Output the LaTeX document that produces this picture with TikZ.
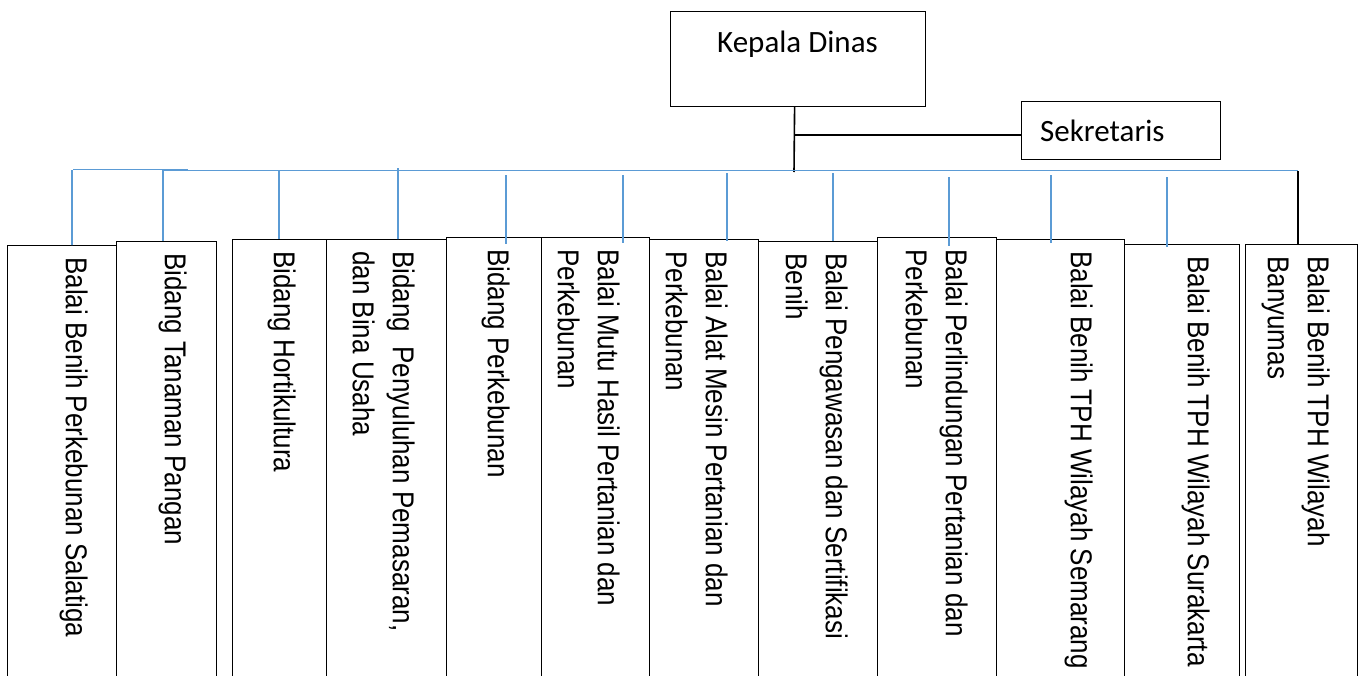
\documentclass[tikz,border=0pt]{standalone}
\usepackage{fontspec}
\newfontfamily\arialf{Liberation Sans}
\newfontfamily\calf{Carlito}
\definecolor{busblue}{RGB}{91,155,213}
\newcommand\orgunit[6]{%
  \node[unitbox, minimum width=#3pt-#2pt, minimum height=700pt-#4pt] (#1) at (#2,#4) {};
  \node[lbl] (#1t) at (#5,#4+12) {#6};}
\newcommand\tapline[5]{\draw[#5] (#2,#3) -- (#2,#3 |- #1.north) -- ++(0,#4);}
\begin{document}
\begin{tikzpicture}[x=1pt,y=-1pt,
  unitbox/.style={draw=black, line width=1.2pt, inner sep=0pt, anchor=north west},
  lbl/.style={font=\arialf\fontsize{26}{34.5}\selectfont, inner sep=0pt, anchor=north west, rotate=-90, yscale=1.16, transform shape, align=left},
  bus/.style={draw=busblue, line width=1.4pt},
  blk/.style={draw=black, line width=1.6pt},
  topbox/.style={draw=black, line width=1.2pt, inner sep=0pt, anchor=north west},
  toptext/.style={font=\calf\fontsize{31}{37}\selectfont, inner sep=0pt}]
\useasboundingbox (0,0) rectangle (1362,675);
\clip (0,0) rectangle (1362,675);

% top boxes
\node[topbox, minimum width=255pt, minimum height=95pt] (kd) at (670,11) {};
\node[toptext, anchor=base] (kdt) at (797.5,52) {Kepala Dinas};
\node[topbox, minimum width=199pt, minimum height=58pt] (sk) at (1021,100.7) {};
\node[toptext, anchor=base west] (skt) at (1040,141.7) {Sekretaris};

% unit boxes
\orgunit{b1}{7}{116}{245}{88}{Balai Benih Perkebunan Salatiga}
\orgunit{b2}{116}{216}{241}{187}{Bidang Tanaman Pangan}
\orgunit{b3}{232}{326}{239}{296}{Bidang Hortikultura}
\orgunit{b4}{326}{446}{239}{415}{Bidang\ \ Penyuluhan Pemasaran,\\dan Bina Usaha}
\orgunit{b5}{446}{541}{237}{510}{Bidang Perkebunan}
\orgunit{b6}{541}{649}{237}{620}{Balai Mutu Hasil Pertanian dan\\Perkebunan}
\orgunit{b7}{649}{758}{239}{728}{Balai Alat Mesin Pertanian dan\\Perkebunan}
\orgunit{b8}{758}{877}{241}{848}{Balai Pengawasan dan Sertifikasi\\Benih}
\orgunit{b9}{877}{996}{237}{968}{Balai Perlindungan Pertanian dan\\Perkebunan}
\orgunit{b10}{996}{1124}{239}{1093}{Balai Benih TPH Wilayah Semarang}
\orgunit{b11}{1124}{1239}{244}{1210}{Balai Benih TPH Wilayah Surakarta}
\orgunit{b12}{1245}{1357}{244}{1330}{Balai Benih TPH Wilayah\\Banyumas}

% black connectors
\coordinate (jn) at (794,135);
\coordinate (jb) at (794,172);
\draw[blk] ([xshift=-3.5pt]kd.south) -- (jb);
\draw[blk] (jn) -- (jn -| sk.west);

% blue bus
\coordinate (busA) at (73,169.5);
\coordinate (busB) at (188,169.5);
\coordinate (busC) at (163,170.7);
\coordinate (busD) at (1298,170.7);
\draw[bus] (busA) -- (busB);
\draw[bus] (busC) -- (busD);

% taps
\tapline{b1}{72}{170}{-1}{bus}
\tapline{b2}{163}{170}{0}{bus}
\tapline{b3}{279}{170}{0}{bus}
\tapline{b4}{398}{168}{-2}{bus}
\tapline{b5}{506}{175}{7}{bus}
\tapline{b6}{623}{175}{6}{bus}
\tapline{b7}{727}{173}{2}{bus}
\tapline{b8}{833}{173}{0}{bus}
\tapline{b9}{949}{177}{9}{bus}
\tapline{b10}{1051}{175}{4}{bus}
\tapline{b11}{1167}{177}{3}{bus}
\tapline{b12}{1298}{171}{-3}{blk}
\end{tikzpicture}
\end{document}
